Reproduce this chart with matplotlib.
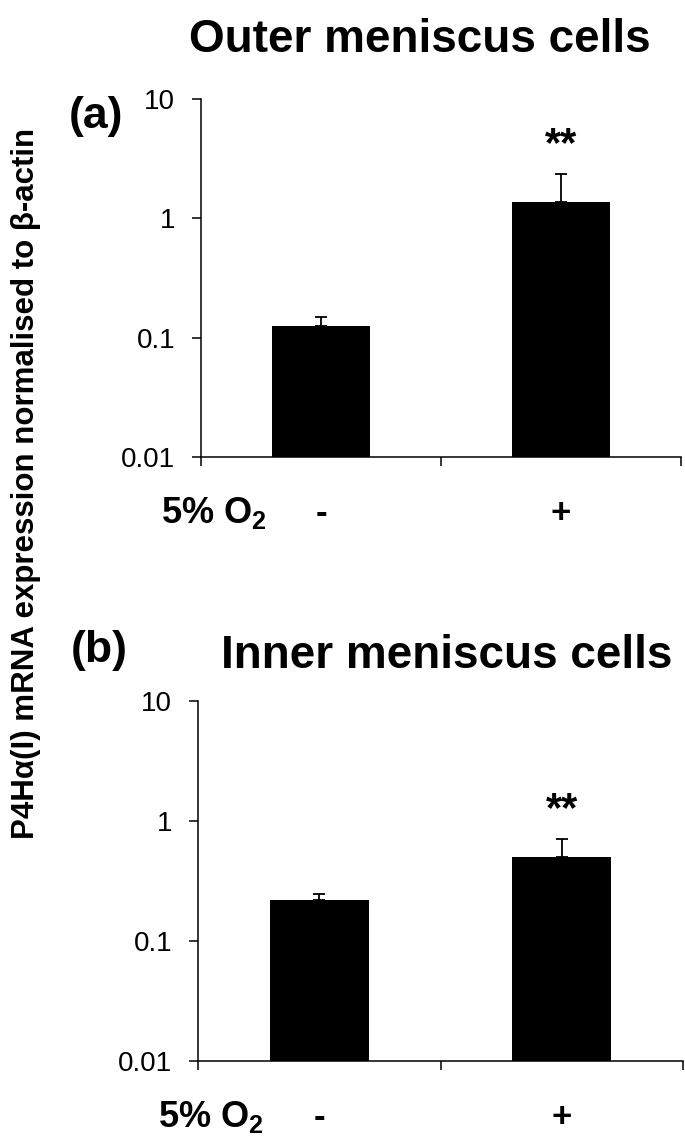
import matplotlib
matplotlib.use('Agg')
import matplotlib.pyplot as plt
from matplotlib.ticker import FixedLocator, FixedFormatter, NullFormatter

# values
conditions = ['-', '+']
outer_mean = [0.126, 1.36]
outer_err = [0.024, 0.98]
inner_mean = [0.22, 0.50]
inner_err = [0.026, 0.21]
panel_titles = ['Outer meniscus cells', 'Inner meniscus cells']
panel_tags = ['(a)', '(b)']
stars = ['', '**']
yticks = [0.01, 0.1, 1, 10]
ytick_labels = ['0.01', '0.1', '1', '10']

fam = ['Liberation Sans', 'DejaVu Sans']
plt.rcParams['font.family'] = fam
plt.rcParams['mathtext.fontset'] = 'custom'
plt.rcParams['mathtext.rm'] = 'Liberation Sans:bold'
plt.rcParams['mathtext.it'] = 'Liberation Sans:bold'
plt.rcParams['mathtext.bf'] = 'Liberation Sans:bold'

W, H = 685, 1146
fig = plt.figure(figsize=(W / 100, H / 100), dpi=100)


def px_box(left, right, top, bottom):
    return [left / W, 1 - bottom / H, (right - left) / W, (bottom - top) / H]


boxes = [px_box(201, 681, 99, 457), px_box(198, 683, 701, 1061)]
title_pos = [(420, 52), (447, 668)]
tag_pos = [(96, 128), (99, 662)]

for i, (mean, err) in enumerate([(outer_mean, outer_err), (inner_mean, inner_err)]):
    ax = fig.add_axes(boxes[i])
    x = list(range(len(conditions)))
    ax.bar(x, mean, width=0.41, color='black', zorder=2)
    ax.errorbar(x, mean, yerr=[[0] * len(err), err], fmt='none', ecolor='black',
                elinewidth=1.3, capsize=4.6, capthick=1.3, zorder=3)
    ax.set_yscale('log')
    ax.set_ylim(0.01, 10)
    ax.set_xlim(-0.5, 1.5)
    ax.yaxis.set_major_locator(FixedLocator(yticks))
    ax.yaxis.set_major_formatter(FixedFormatter(ytick_labels))
    ax.yaxis.set_minor_formatter(NullFormatter())
    ax.tick_params(axis='y', which='minor', length=0)
    ax.tick_params(axis='y', which='major', direction='out', length=6.5, width=1.1,
                   pad=12, labelsize=20)
    ax.xaxis.set_major_locator(FixedLocator([-0.5, 0.5, 1.5]))
    ax.xaxis.set_major_formatter(NullFormatter())
    ax.xaxis.set_minor_locator(FixedLocator(x))
    ax.xaxis.set_minor_formatter(FixedFormatter(conditions))
    ax.tick_params(axis='x', which='major', direction='out', length=6.5, width=1.1)
    ax.tick_params(axis='x', which='minor', length=0, pad=29, labelsize=25)
    for lbl in ax.get_xticklabels(minor=True):
        lbl.set_fontweight('bold')
    for s in ['top', 'right']:
        ax.spines[s].set_visible(False)
    for s in ['left', 'bottom']:
        ax.spines[s].set_linewidth(1.1)
    ax.annotate('5% O$_2$', xy=(-0.5, 0), xycoords=('data', 'axes fraction'),
                xytext=(47, -47.5), textcoords='offset points',
                ha='right', va='baseline', fontsize=26, fontweight='bold')
    for xi, (m, e, s) in enumerate(zip(mean, err, stars)):
        if s:
            ax.annotate(s, (xi, m + e), xytext=(0, 13), textcoords='offset points',
                        ha='center', va='baseline', fontsize=30, fontweight='bold')
    fig.text(title_pos[i][0] / W, 1 - title_pos[i][1] / H, panel_titles[i],
             ha='center', va='baseline', fontsize=33, fontweight='bold')
    fig.text(tag_pos[i][0] / W, 1 - tag_pos[i][1] / H, panel_tags[i],
             ha='center', va='baseline', fontsize=32, fontweight='bold')

fig.text(26 / W, 1 - 483 / H, 'P4H\u03b1(I) mRNA expression normalised to \u03b2-actin',
         rotation=90, ha='center', va='center', fontsize=22.5, fontweight='bold')

fig.savefig('out.png', dpi=100)
